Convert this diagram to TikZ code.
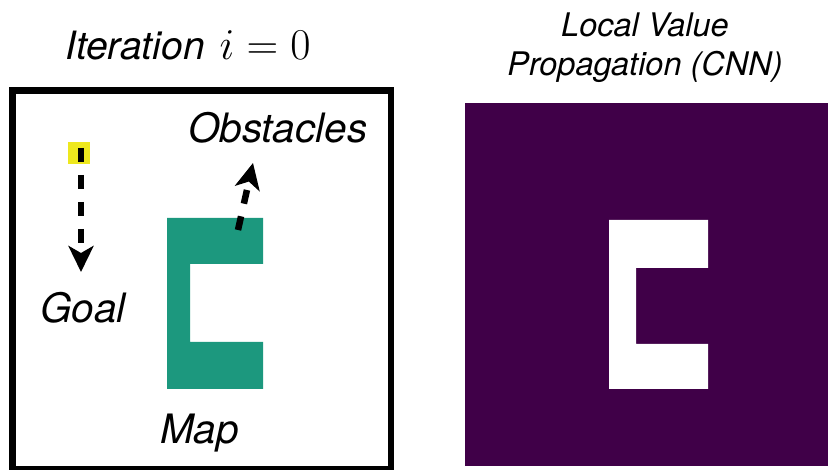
\RequirePackage{fix-cm}
\documentclass[tikz,border=0pt]{standalone}
\usepackage[no-math]{fontspec}
\setmainfont{TeX Gyre Heros}
\usetikzlibrary{arrows.meta}

\definecolor{obstaclegreen}{RGB}{28,152,126}
\definecolor{valuepurple}{RGB}{64,0,72}
\definecolor{goalyellow}{RGB}{238,232,30}

\tikzset{
  label40/.style={anchor=base west, inner sep=0pt, font=\fontsize{40.5}{48}\selectfont\itshape},
  label32/.style={anchor=base, inner sep=0pt, font=\fontsize{32.5}{39}\selectfont\itshape},
  dasharrow/.style={line width=6.5pt, dash pattern=on 14pt off 13pt,
    -{Stealth[length=26pt,width=25pt,inset=7pt]}},
  frame/.style={draw=black, line width=6.5pt},
}

\begin{document}
\begin{tikzpicture}[x=1pt,y=-1pt]
\useasboundingbox[fill=white] (0,0) rectangle (828,470);

% left panel: input map
\node[label40, font=\fontsize{39}{46}\selectfont\itshape] (title) at (65,60)
  {Iteration\hspace{4pt} {\fontsize{44}{50}\selectfont$i=0$}};
\draw[frame] (12.5,90.5) rectangle (391,469.5);

% obstacle wall (C shape)
\fill[obstaclegreen] (167,218) -- (263,218) -- (263,264) -- (190,264) -- (190,342)
  -- (263,342) -- (263,389) -- (167,389) -- cycle;

% goal cell
\node[fill=goalyellow, minimum size=22pt, inner sep=0pt] (goalcell) at (79,153) {};

\node[label40] (obstacles) at (188,143) {Obstacles};
\node[label40] (goal) at (40,323) {Goal};
\node[label40] (map) at (160,443) {Map};

\coordinate (goaltip) at (81,272);
\coordinate (goalstart) at (81,148);
\draw[dasharrow] (goalstart) -- (goaltip);

\coordinate (obsfoot) at (238,230);
\coordinate (obstip) at (253,163);
\draw[dasharrow] (obsfoot) -- (obstip);

% right panel: value map
\node[label32] (cnnA) at (645,37) {Local Value};
\node[label32] (cnnB) at (645,76) {Propagation (CNN)};
\fill[valuepurple] (465,103) rectangle (828,466);
\fill[white] (609,220) -- (708,220) -- (708,268) -- (636,268) -- (636,344)
  -- (708,344) -- (708,389) -- (609,389) -- cycle;
\end{tikzpicture}
\end{document}
